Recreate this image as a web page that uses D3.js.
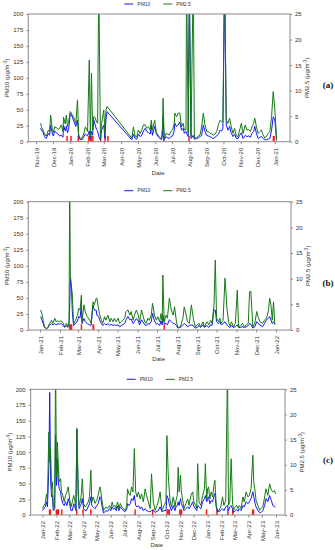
<!DOCTYPE html>
<html>
<head>
<meta charset="utf-8">
<script src="https://cdn.jsdelivr.net/npm/d3@7"></script>
<style>
  body { margin: 0; background: #fff; }
  svg { display: block; font-family: "Liberation Sans", Arial, sans-serif; }
</style>
</head>
<body>
<div id="chart"></div>
<script>
// ---- panel (a) Nov 2019 - Jan 2021 ----
const datesA = ["2019-11-09","2019-11-11","2019-11-13","2019-11-16","2019-11-19","2019-11-23","2019-11-25","2019-11-27","2019-11-30","2019-12-02","2019-12-04","2019-12-07","2019-12-10","2019-12-13","2019-12-16","2019-12-19","2019-12-20","2019-12-23","2019-12-25","2019-12-27","2019-12-29","2020-01-01","2020-01-04","2020-01-08","2020-01-11","2020-01-14","2020-01-16","2020-01-18","2020-01-22","2020-01-25","2020-01-28","2020-02-01","2020-02-04","2020-02-06","2020-02-08","2020-02-10","2020-02-12","2020-02-14","2020-02-17","2020-02-19","2020-02-21","2020-02-24","2020-02-26","2020-03-01","2020-03-03","2020-03-05","2020-03-07","2020-04-20","2020-04-23","2020-04-26","2020-04-29","2020-05-02","2020-05-05","2020-05-08","2020-05-11","2020-05-14","2020-05-17","2020-05-20","2020-05-23","2020-05-25","2020-05-27","2020-05-31","2020-06-03","2020-06-07","2020-06-10","2020-06-12","2020-06-14","2020-06-15","2020-06-17","2020-06-20","2020-06-23","2020-06-26","2020-06-29","2020-07-02","2020-07-05","2020-07-06","2020-07-09","2020-07-12","2020-07-15","2020-07-18","2020-07-21","2020-07-23","2020-07-26","2020-07-27","2020-07-30","2020-08-01","2020-08-04","2020-08-08","2020-08-10","2020-08-14","2020-08-17","2020-08-20","2020-08-23","2020-08-26","2020-08-29","2020-09-01","2020-09-04","2020-09-07","2020-09-10","2020-09-13","2020-09-16","2020-09-19","2020-09-22","2020-09-25","2020-09-28","2020-09-30","2020-10-03","2020-10-06","2020-10-09","2020-10-12","2020-10-15","2020-10-18","2020-10-21","2020-10-24","2020-10-27","2020-10-30","2020-11-02","2020-11-05","2020-11-09","2020-11-12","2020-11-15","2020-11-18","2020-11-21","2020-11-24","2020-11-26","2020-11-29","2020-12-02","2020-12-05","2020-12-08","2020-12-11","2020-12-14","2020-12-17","2020-12-20","2020-12-23","2020-12-26","2020-12-29","2021-01-01","2021-01-04"];
const pm10A = [21,17,16,8,5,13,10,26,12,9,17,14,12,9,10,7,26,17,24,14,19,44,40,31,24,34,8,4,3,7,12,9,17,4,16,10,34,28,19,17,8,3,18,26,5,37,47,3,12,5,4,12,8,10,17,21,16,14,12,26,10,24,12,7,5,3,10,39,3,8,6,5,8,9,17,29,24,26,31,18,21,13,16,13,8,240,5,10,4,5,6,8,10,26,16,10,9,8,6,5,7,9,12,18,17,21,240,26,18,24,13,8,12,5,5,10,14,5,10,8,9,7,13,16,24,13,5,7,8,5,3,3,4,5,18,39,34,2];
const pm25A = [3.6,2.8,2.3,1.6,1.1,2.3,2.0,5.2,2.3,1.8,2.9,2.8,2.4,2.6,3.3,2.0,4.8,3.5,5.2,2.9,3.9,5.9,5.4,4.6,3.6,8.2,1.5,0.7,0.7,1.5,2.9,2.0,16.0,1.0,13.4,2.3,4.9,4.8,3.9,3.6,32,0.5,3.6,6.2,1.6,6.2,6.9,0.7,2.9,1.1,1.0,2.3,1.6,2.3,3.3,3.3,2.6,2.9,2.3,4.2,2.3,4.2,1.8,1.1,0.8,0.5,2.9,8.5,0.7,1.6,1.5,1.3,2.0,2.3,3.6,5.6,4.9,5.6,5.6,2.9,3.6,2.3,2.3,32,1.6,30,1.0,33,0.7,0.8,1.1,1.3,2.9,5.6,3.3,2.0,2.0,1.6,1.5,1.3,1.5,2.0,3.3,4.2,3.9,3.9,35,4.2,3.6,4.6,2.9,1.6,2.6,1.1,1.0,2.3,3.6,1.6,3.3,2.3,2.4,2.0,2.9,3.6,4.6,2.9,1.6,2.0,2.3,1.3,0.7,1.1,1.6,2.0,4.9,9.8,6.2,0.3];
const dustA = [["2019-12-25","2019-12-25"],["2020-01-01","2020-01-01"],["2020-01-14","2020-01-14"],["2020-02-02","2020-02-02"],["2020-02-04","2020-02-04"],["2020-02-06","2020-02-06"],["2020-02-09","2020-02-09"],["2020-02-23","2020-02-23"],["2020-03-02","2020-03-02"],["2020-03-07","2020-03-07"],["2020-06-15","2020-06-15"],["2020-07-30","2020-07-30"],["2020-12-28","2020-12-31"]];

// ---- panel (b) Jan 2021 - Jan 2022 ----
const datesB = ["2021-01-02","2021-01-04","2021-01-06","2021-01-08","2021-01-11","2021-01-13","2021-01-16","2021-01-19","2021-01-21","2021-01-24","2021-01-26","2021-01-29","2021-01-31","2021-02-03","2021-02-06","2021-02-08","2021-02-11","2021-02-13","2021-02-15","2021-02-16","2021-02-17","2021-02-19","2021-02-20","2021-02-22","2021-02-25","2021-02-28","2021-03-02","2021-03-04","2021-03-06","2021-03-07","2021-03-10","2021-03-12","2021-03-15","2021-03-19","2021-03-21","2021-03-24","2021-03-26","2021-03-29","2021-03-30","2021-04-02","2021-04-03","2021-04-06","2021-04-08","2021-04-11","2021-04-13","2021-04-16","2021-04-19","2021-04-21","2021-04-24","2021-04-26","2021-04-29","2021-05-02","2021-05-04","2021-05-07","2021-05-12","2021-05-14","2021-05-17","2021-05-20","2021-05-22","2021-05-25","2021-05-27","2021-05-30","2021-06-02","2021-06-04","2021-06-07","2021-06-09","2021-06-12","2021-06-14","2021-06-17","2021-06-19","2021-06-22","2021-06-24","2021-06-27","2021-06-30","2021-07-02","2021-07-05","2021-07-07","2021-07-09","2021-07-10","2021-07-12","2021-07-15","2021-07-17","2021-07-20","2021-07-23","2021-07-26","2021-07-28","2021-07-31","2021-08-02","2021-08-06","2021-08-10","2021-08-12","2021-08-15","2021-08-17","2021-08-20","2021-08-23","2021-08-26","2021-08-29","2021-09-01","2021-09-04","2021-09-06","2021-09-10","2021-09-12","2021-09-16","2021-09-19","2021-09-22","2021-09-24","2021-09-27","2021-09-29","2021-10-01","2021-10-04","2021-10-06","2021-10-08","2021-10-11","2021-10-14","2021-10-17","2021-10-20","2021-10-22","2021-10-24","2021-10-27","2021-10-30","2021-11-02","2021-11-04","2021-11-07","2021-11-10","2021-11-13","2021-11-16","2021-11-19","2021-11-21","2021-11-23","2021-11-26","2021-11-29","2021-12-02","2021-12-04","2021-12-07","2021-12-11","2021-12-14","2021-12-17","2021-12-20","2021-12-22","2021-12-24","2021-12-26","2021-12-28","2021-12-30"];
const pm10B = [21,16,10,4,2,3,8,10,8,10,8,10,9,10,7,4,7,4,8,39,80,60,29,7,10,14,21,19,39,10,18,13,10,8,7,39,31,31,23,21,16,10,7,10,8,10,7,9,7,8,7,8,5,7,10,16,21,16,17,10,13,18,14,8,16,13,8,7,10,9,13,26,14,9,10,7,14,8,23,10,10,8,16,13,10,10,7,3,4,8,10,8,5,7,8,7,3,4,7,4,8,4,7,4,8,7,31,31,13,10,13,8,10,13,8,5,4,7,4,5,8,4,4,5,4,5,7,10,9,3,5,13,10,8,5,10,16,18,21,16,10,13,10];
const pm25B = [3.9,3.2,1.9,0.6,0.3,0.5,1.3,1.9,1.3,2.3,1.6,1.8,1.6,1.8,1.3,0.6,1.3,0.6,1.6,30,10.7,8.1,6.8,1.1,1.9,2.9,4.2,3.9,6.8,1.6,4.9,3.6,2.6,1.9,1.3,5.5,4.9,6.2,6.2,3.9,3.2,1.9,1.3,2.6,1.9,2.9,1.6,2.3,1.6,2.3,1.6,2.3,1.3,1.6,2.3,3.6,3.9,2.9,3.6,1.9,2.9,3.9,2.9,1.6,3.9,2.9,1.6,1.3,2.3,1.9,2.9,5.2,2.9,1.9,2.6,1.6,3.2,1.6,10.7,1.6,2.9,2.3,6.2,3.9,2.9,4.5,1.6,0.5,0.6,2.3,4.5,2.9,1.6,1.3,4.9,2.3,0.6,1.0,1.3,0.6,1.6,0.6,1.6,1.0,1.9,1.3,4.9,13.6,2.3,1.6,2.3,1.3,1.9,10.1,4.2,1.3,0.8,1.6,0.6,1.3,7.8,0.6,0.8,1.3,0.6,1.0,1.3,7.5,7.5,0.6,1.3,3.6,2.6,1.6,1.3,1.9,2.3,3.6,6.2,4.9,1.9,5.5,1.0];
const dustB = [["2021-02-15","2021-02-19"],["2021-03-05","2021-03-05"],["2021-03-23","2021-03-25"],["2021-07-11","2021-07-11"]];

// ---- panel (c) Jan 2022 - Jun 2023 ----
const datesC = ["2022-01-01","2022-01-04","2022-01-07","2022-01-10","2022-01-12","2022-01-15","2022-01-17","2022-01-19","2022-01-21","2022-01-23","2022-01-25","2022-01-28","2022-01-30","2022-02-01","2022-02-03","2022-02-05","2022-02-07","2022-02-10","2022-02-12","2022-02-15","2022-02-18","2022-02-21","2022-02-24","2022-02-27","2022-03-02","2022-03-05","2022-03-08","2022-03-11","2022-03-13","2022-03-16","2022-03-18","2022-03-21","2022-03-23","2022-03-26","2022-03-28","2022-03-30","2022-04-02","2022-04-05","2022-04-08","2022-04-12","2022-04-15","2022-04-18","2022-04-20","2022-04-23","2022-04-27","2022-05-01","2022-05-04","2022-05-08","2022-05-10","2022-05-13","2022-05-16","2022-05-21","2022-05-25","2022-05-29","2022-06-01","2022-06-04","2022-06-07","2022-06-10","2022-06-13","2022-06-16","2022-06-19","2022-06-22","2022-06-25","2022-06-29","2022-07-02","2022-07-06","2022-07-08","2022-07-11","2022-07-14","2022-07-17","2022-07-20","2022-07-23","2022-07-26","2022-07-29","2022-08-01","2022-08-05","2022-08-08","2022-08-12","2022-08-16","2022-08-19","2022-08-23","2022-08-27","2022-08-30","2022-09-03","2022-09-07","2022-09-11","2022-09-14","2022-09-18","2022-09-22","2022-09-24","2022-09-27","2022-10-01","2022-10-03","2022-10-06","2022-10-08","2022-10-10","2022-10-13","2022-10-17","2022-10-21","2022-10-23","2022-10-26","2022-10-28","2022-10-30","2022-11-02","2022-11-04","2022-11-07","2022-11-10","2022-11-14","2022-11-18","2022-11-21","2022-11-25","2022-11-29","2022-12-01","2022-12-05","2022-12-08","2022-12-10","2022-12-13","2022-12-17","2022-12-21","2022-12-25","2022-12-27","2022-12-30","2023-01-01","2023-01-03","2023-01-06","2023-01-09","2023-01-12","2023-01-15","2023-01-17","2023-01-20","2023-01-23","2023-01-26","2023-01-30","2023-02-03","2023-02-06","2023-02-10","2023-02-14","2023-02-16","2023-02-19","2023-02-22","2023-02-25","2023-02-27","2023-03-03","2023-03-06","2023-03-09","2023-03-12","2023-03-16","2023-03-20","2023-03-23","2023-03-27","2023-03-31","2023-04-03","2023-04-07","2023-04-11","2023-04-13","2023-04-16","2023-04-18","2023-04-22","2023-04-26","2023-04-29","2023-05-03","2023-05-07","2023-05-10","2023-05-14","2023-05-18","2023-05-22","2023-05-25","2023-05-29","2023-05-31"];
const pm10C = [7,10,13,21,13,74,195,58,29,31,7,10,127,47,90,53,42,37,26,18,15,21,15,26,18,7,7,18,15,7,137,31,10,15,18,26,10,7,7,13,18,29,15,13,10,15,18,29,26,13,3,7,6,10,7,13,9,11,7,14,7,13,10,7,5,9,18,15,18,26,23,31,15,13,15,10,13,7,10,7,6,5,7,7,4,6,7,13,5,6,7,7,31,26,18,13,7,15,7,13,15,21,15,26,18,13,7,10,13,10,15,21,15,10,7,15,13,10,21,26,31,21,26,29,18,23,21,31,34,13,5,6,7,10,7,13,15,7,13,15,10,4,7,9,6,10,7,15,13,21,18,21,26,37,29,18,13,7,4,4,7,15,26,21,31,23,15,13,13];
const pm25C = [1.3,1.9,2.3,4.2,2.6,16.5,10.5,13.2,5.2,6.6,1.6,1.4,30,7.6,14.5,9.9,6.6,7.2,4.6,3.9,2.6,3.9,4.6,5.6,3.2,1.6,2.6,3.9,3.2,1.3,17.2,5.2,1.9,2.9,4.2,7.2,2.3,1.6,1.9,2.6,3.6,8.9,2.6,3.6,2.3,2.9,3.9,5.6,4.6,2.6,0.9,1.6,1.3,1.9,1.3,2.6,1.6,1.9,1.3,2.6,1.3,2.3,1.6,1.3,0.9,1.6,5.2,4.2,3.9,5.6,4.6,13.2,4.6,3.6,4.6,3.2,4.2,2.6,5.2,3.9,2.6,1.3,8.2,2.6,0.9,1.9,2.6,4.6,0.9,1.3,1.9,2.6,15.8,7.9,5.2,2.9,1.6,3.6,1.6,2.9,3.9,9.5,4.6,7.9,4.6,2.9,1.3,2.3,3.2,1.9,3.9,4.6,2.9,1.9,1.3,10.2,2.6,1.9,3.9,5.2,10.2,3.2,5.2,5.6,3.2,4.6,3.6,5.9,6.9,1.9,0.9,0.9,1.6,3.6,1.9,2.9,30,1.9,2.6,11.2,2.6,0.9,1.6,1.9,1.3,1.9,1.3,3.6,2.6,4.6,3.6,3.9,5.2,11.9,6.6,4.6,2.9,1.9,0.9,1.3,1.6,3.6,5.2,3.9,6.2,4.9,4.6,4.9,4.2];
const dustC = [["2022-01-15","2022-01-19"],["2022-01-30","2022-02-06"],["2022-02-11","2022-02-11"],["2022-03-16","2022-03-18"],["2022-03-30","2022-03-30"],["2022-04-16","2022-04-16"],["2022-07-23","2022-07-23"],["2022-08-31","2022-08-31"],["2022-10-02","2022-10-09"],["2022-10-30","2022-11-05"],["2022-12-28","2022-12-28"],["2023-01-20","2023-01-20"],["2023-02-13","2023-02-14"],["2023-02-24","2023-02-25"],["2023-04-09","2023-04-13"]];

const pm10Ticks = [0, 25, 50, 75, 100, 125, 150, 175, 200];
const pm25Ticks = [0, 5, 10, 15, 20, 25];

const parse = d3.timeParse("%Y-%m-%d");
const W = 335, H = 550;

const svg = d3.select("#chart").append("svg")
    .attr("width", W)
    .attr("height", H);

const panels = [
    { tag: "(a)", dates: datesA, pm10: pm10A, pm25: pm25A, dust: dustA,
      domain: ["2019-10-18", "2021-01-28"], left: 28.3, right: 290, top: 14, bottom: 141.7,
      legendY: 4, dateY: 175, tagY: 88 },
    { tag: "(b)", dates: datesB, pm10: pm10B, pm25: pm25B, dust: dustB,
      domain: ["2020-12-14", "2022-01-24"], left: 28.3, right: 291, top: 201.7, bottom: 330,
      legendY: 190.7, dateY: 361, tagY: 286 },
    { tag: "(c)", dates: datesC, pm10: pm10C, pm25: pm25C, dust: dustC,
      domain: ["2021-12-06", "2023-06-21"], left: 30.7, right: 285, top: 389.3, bottom: 515,
      legendY: 379.3, dateY: 547, tagY: 463 }
];

panels.forEach((p, i) => drawPanel(p, i));

function drawPanel(p, i) {
    const g = svg.append("g");

    const x = d3.scaleTime()
        .domain(p.domain.map(parse))
        .range([p.left, p.right]);
    const yL = d3.scaleLinear().domain([0, 200]).range([p.bottom, p.top]);
    const yR = d3.scaleLinear().domain([0, 25]).range([p.bottom, p.top]);

    const clipId = "clip" + i;
    g.append("clipPath").attr("id", clipId)
        .append("rect")
        .attr("x", p.left).attr("y", p.top)
        .attr("width", p.right - p.left).attr("height", p.bottom - p.top);

    const plot = g.append("g").attr("clip-path", "url(#" + clipId + ")");

    // red event bars along the bottom
    plot.selectAll(".dust")
        .data(p.dust)
        .enter().append("rect")
        .attr("class", "dust")
        .attr("x", d => x(parse(d[0])))
        .attr("y", yL(9))
        .attr("width", d => Math.max(1.5, x(d3.timeDay.offset(parse(d[1]), 1)) - x(parse(d[0]))))
        .attr("height", yL(0) - yL(9))
        .style("fill", "#ff1a1a");

    const rows = p.dates.map((d, k) => ({ date: parse(d), pm10: p.pm10[k], pm25: p.pm25[k] }));

    plot.append("path")
        .datum(rows)
        .attr("fill", "none")
        .attr("stroke", "#1515ff")
        .attr("stroke-width", 1)
        .attr("d", d3.line().x(d => x(d.date)).y(d => yL(d.pm10)));

    plot.append("path")
        .datum(rows)
        .attr("fill", "none")
        .attr("stroke", "#157a15")
        .attr("stroke-width", 1)
        .attr("d", d3.line().x(d => x(d.date)).y(d => yR(d.pm25)));

    // frame
    g.append("rect")
        .attr("x", p.left).attr("y", p.top)
        .attr("width", p.right - p.left).attr("height", p.bottom - p.top)
        .attr("fill", "none")
        .attr("stroke", "#8a8a8a")
        .attr("stroke-width", 1);

    // axes
    const axL = g.append("g")
        .attr("transform", "translate(" + p.left + ",0)")
        .call(d3.axisLeft(yL).tickValues(pm10Ticks).tickSize(2).tickPadding(3));
    const axR = g.append("g")
        .attr("transform", "translate(" + p.right + ",0)")
        .call(d3.axisRight(yR).tickValues(pm25Ticks).tickSize(2).tickPadding(3));
    const axB = g.append("g")
        .attr("transform", "translate(0," + p.bottom + ")")
        .call(d3.axisBottom(x).ticks(d3.timeMonth.every(1)).tickFormat(d3.timeFormat("%b-%y")).tickSize(2.5));

    [axL, axR, axB].forEach(ax => {
        ax.select(".domain").remove();
        ax.selectAll(".tick line").attr("stroke", "#8a8a8a");
        ax.selectAll(".tick text")
            .style("font-size", "6px")
            .style("font-family", "Liberation Sans, Arial, sans-serif")
            .attr("fill", "#333");
    });

    axB.selectAll(".tick text")
        .attr("transform", "rotate(-90)")
        .attr("text-anchor", "end")
        .attr("x", -6)
        .attr("y", 0)
        .attr("dy", "0.35em");

    // axis titles
    const midY = (p.top + p.bottom) / 2;
    const tL = g.append("text")
        .attr("transform", "translate(" + (p.left - 19) + "," + midY + ") rotate(-90)")
        .attr("text-anchor", "middle")
        .style("font-size", "6px")
        .attr("fill", "#333");
    tL.append("tspan").text("PM10 (μg/m");
    tL.append("tspan").attr("dy", -2).style("font-size", "4.5px").text("-3");
    tL.append("tspan").attr("dy", 2).text(")");

    const tR = g.append("text")
        .attr("transform", "translate(" + (p.right + 19) + "," + midY + ") rotate(-90)")
        .attr("text-anchor", "middle")
        .style("font-size", "6px")
        .attr("fill", "#333");
    tR.append("tspan").text("PM2.5 (μg/m");
    tR.append("tspan").attr("dy", -2).style("font-size", "4.5px").text("-3");
    tR.append("tspan").attr("dy", 2).text(")");

    g.append("text")
        .attr("x", (p.left + p.right) / 2 - 1)
        .attr("y", p.dateY)
        .attr("text-anchor", "middle")
        .style("font-size", "6px")
        .attr("fill", "#333")
        .text("Date");

    // panel tag
    g.append("text")
        .attr("x", 328)
        .attr("y", p.tagY)
        .attr("text-anchor", "middle")
        .style("font-family", "Liberation Serif, Times New Roman, serif")
        .style("font-weight", "bold")
        .style("font-size", "9px")
        .attr("fill", "#111")
        .text(p.tag);

    // legend
    const lx = p.left + 96;
    const legend = [{ name: "PM10", color: "#1515ff" }, { name: "PM2.5", color: "#157a15" }];
    legend.forEach((it, k) => {
        const ox = lx + k * 39;
        g.append("line")
            .attr("x1", ox).attr("x2", ox + 9)
            .attr("y1", p.legendY).attr("y2", p.legendY)
            .attr("stroke", it.color).attr("stroke-width", 1);
        g.append("text")
            .attr("x", ox + 13)
            .attr("y", p.legendY)
            .attr("dy", "0.35em")
            .style("font-size", "5px")
            .attr("fill", "#333")
            .text(it.name);
    });
}
</script>
</body>
</html>
